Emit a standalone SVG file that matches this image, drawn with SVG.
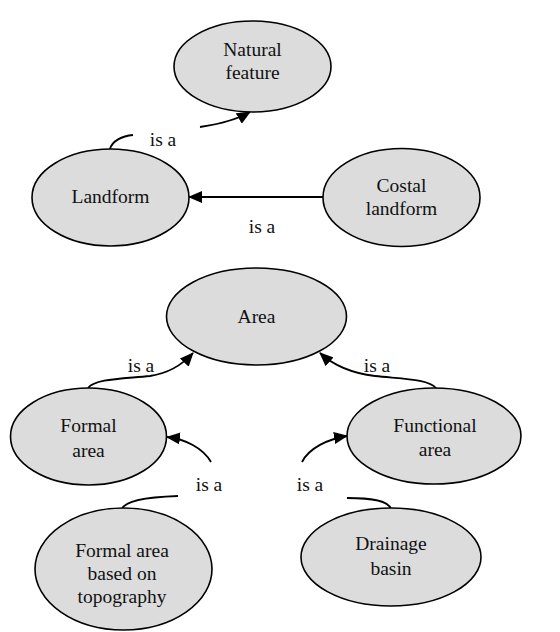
<svg xmlns="http://www.w3.org/2000/svg" width="560" height="632" viewBox="0 0 560 632" font-family="'Liberation Serif', 'DejaVu Serif', serif">
  <style>
    .node ellipse { fill: #dcdcdc; stroke: #000; stroke-width: 1.6; }
    text { font-family: "Liberation Serif", "DejaVu Serif", serif; font-size: 19.5px; fill: #111; text-anchor: middle; }
    .edge { fill: none; stroke: #000; stroke-width: 1.8; }
  </style>
  <defs>
    <marker id="arrow" viewBox="0 0 14 12" refX="13" refY="6" markerWidth="14" markerHeight="12" markerUnits="userSpaceOnUse" orient="auto">
      <path d="M0,0 L14,6 L0,12 z" fill="#000"/>
    </marker>
  </defs>

  <!-- connectors -->
  <g id="connectors">
    <path class="edge" d="M110,149 C112,141 122,136 133,135"/>
    <path class="edge" d="M200,127 C220,124 238,119 250,112" marker-end="url(#arrow)"/>
    <path class="edge" d="M323,197 L189,197" marker-end="url(#arrow)"/>
    <path class="edge" d="M88,388 C95,379 120,379 150,376 C170,373 183,364 193,353" marker-end="url(#arrow)"/>
    <path class="edge" d="M436,388 C429,379 404,379 375,376 C350,373 332,364 320,353" marker-end="url(#arrow)"/>
    <path class="edge" d="M122,509 C125,500 150,497 178,496"/>
    <path class="edge" d="M211,462 C203,448 185,439 167,437" marker-end="url(#arrow)"/>
    <path class="edge" d="M391,509 C388,500 370,498 347,498"/>
    <path class="edge" d="M302,462 C309,448 328,439 347,436" marker-end="url(#arrow)"/>
    <text x="163" y="146">is a</text>
    <text x="262" y="233">is a</text>
    <text x="141" y="372">is a</text>
    <text x="377" y="372">is a</text>
    <text x="209" y="491">is a</text>
    <text x="310" y="491">is a</text>
  </g>

  <g id="natural-feature" class="node">
    <ellipse cx="252.5" cy="66.5" rx="78.5" ry="45.5"/>
    <text x="252.5" y="56">Natural</text>
    <text x="252.5" y="79">feature</text>
  </g>

  <g id="landform" class="node">
    <ellipse cx="110.5" cy="197.5" rx="78.5" ry="48.5"/>
    <text x="110.5" y="203">Landform</text>
  </g>

  <g id="costal-landform" class="node">
    <ellipse cx="401.5" cy="197.5" rx="78.5" ry="49"/>
    <text x="401.5" y="192">Costal</text>
    <text x="401.5" y="215">landform</text>
  </g>

  <g id="area" class="node">
    <ellipse cx="256.5" cy="316.5" rx="90" ry="48.5"/>
    <text x="256.5" y="323">Area</text>
  </g>

  <g id="formal-area" class="node">
    <ellipse cx="88.5" cy="436.5" rx="78" ry="48.5"/>
    <text x="88.5" y="432">Formal</text>
    <text x="88.5" y="457">area</text>
  </g>

  <g id="functional-area" class="node">
    <ellipse cx="434" cy="436" rx="87" ry="48"/>
    <text x="435" y="432">Functional</text>
    <text x="435" y="456">area</text>
  </g>

  <g id="formal-area-topography" class="node">
    <ellipse cx="123.5" cy="569" rx="88.5" ry="61"/>
    <text x="122" y="557">Formal area</text>
    <text x="122" y="580">based on</text>
    <text x="122" y="603">topography</text>
  </g>

  <g id="drainage-basin" class="node">
    <ellipse cx="391" cy="557" rx="90" ry="49"/>
    <text x="391" y="550">Drainage</text>
    <text x="391" y="575">basin</text>
  </g>
</svg>
